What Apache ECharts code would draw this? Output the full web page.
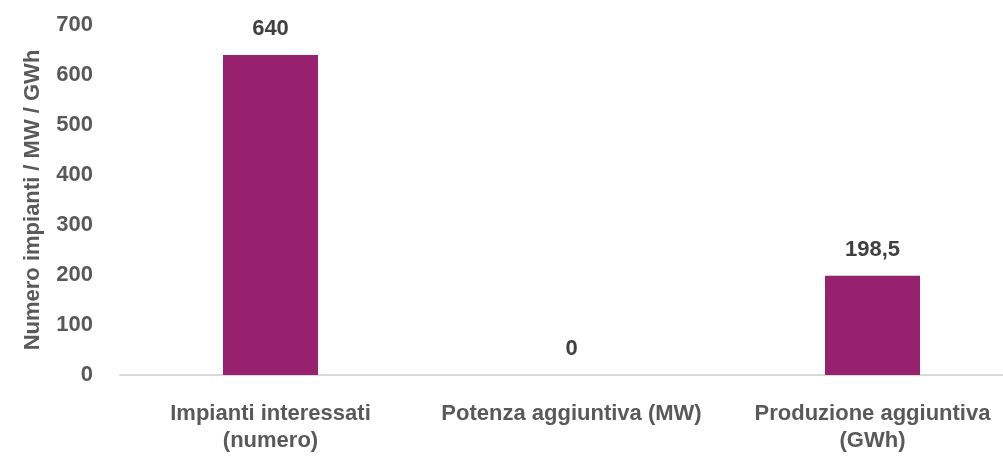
<!DOCTYPE html>
<html><head><meta charset="utf-8">
<script src="https://cdn.jsdelivr.net/npm/echarts@6/dist/echarts.min.js"></script>
<style>html,body{margin:0;padding:0;background:#fff;overflow:hidden}#c{width:1023px;height:456px}</style>
</head><body><div id="c"></div>
<script>
const categories = ["Impianti interessati\n(numero)", "Potenza aggiuntiva (MW)", "Produzione aggiuntiva\n(GWh)"];
const values = [640, 0, 198.5];
const valueLabels = ["640", "0", "198,5"];
const yTicks = [0, 100, 200, 300, 400, 500, 600, 700];
const yAxisTitle = "Numero impianti / MW / GWh";

const font = "'Liberation Sans', Arial, sans-serif";
const chart = echarts.init(document.getElementById('c'), null, {renderer: 'canvas'});
chart.setOption({
  animation: false,
  grid: {left: 120, top: 25, right: 0, bottom: 81, containLabel: false},
  xAxis: {
    type: 'category', data: categories,
    axisLine: {lineStyle: {color: '#d9d9d9', width: 2}},
    axisTick: {show: false},
    axisLabel: {color: '#595959', fontFamily: font, fontWeight: 'bold', fontSize: 22, lineHeight: 27, margin: 25, interval: 0}
  },
  yAxis: {
    type: 'value', min: yTicks[0], max: yTicks[yTicks.length - 1], interval: 100,
    name: yAxisTitle, nameLocation: 'middle', nameRotate: 90, nameGap: 76,
    nameTextStyle: {color: '#595959', fontFamily: font, fontWeight: 'bold', fontSize: 22},
    splitLine: {show: false}, axisLine: {show: false}, axisTick: {show: false},
    axisLabel: {color: '#595959', fontFamily: font, fontWeight: 'bold', fontSize: 22, margin: 27}
  },
  series: [{
    type: 'bar', data: values, barWidth: 95,
    itemStyle: {color: '#97206F'},
    label: {show: true, position: 'top', distance: 15, color: '#404040', fontFamily: font, fontWeight: 'bold', fontSize: 22,
      formatter: p => valueLabels[p.dataIndex]}
  }]
});
</script></body></html>
